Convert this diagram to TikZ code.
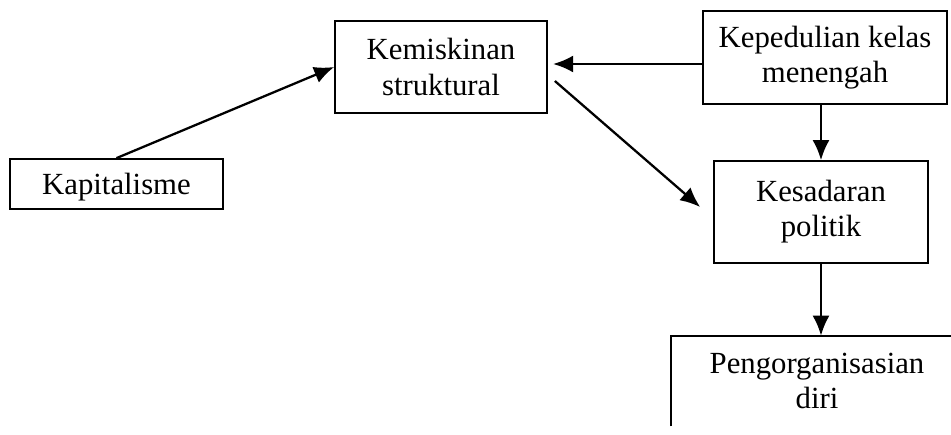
\documentclass[tikz,border=0pt]{standalone}
\usepackage{fontspec}
\setmainfont{Liberation Serif}
\usepackage{tikz}
\usetikzlibrary{positioning, arrows.meta}
\tikzset{
    box/.style={rectangle, draw=black, line width=1pt, fill=white, align=center, inner sep=0pt, font=\fontsize{17.5}{20}\selectfont},
    openbox/.style={rectangle, align=center, inner sep=0pt, font=\fontsize{17.5}{20}\selectfont},
    arrow/.style={-{Latex[length=0.4cm, width=0.34cm]}, line width=1.3pt}
}

\begin{document}
\begin{tikzpicture}[x=0.02cm, y=-0.02cm]
    \useasboundingbox (0,0) rectangle (951,435);
    \clip (0,0) rectangle (951,435);

    % Boxes
    \node[box, minimum width=4.26cm, minimum height=1.0cm, text depth=0pt] (kap) at (116.5,184) {Kapitalisme};
    \node[box, minimum width=4.24cm, minimum height=1.84cm] (kem) at (441,67) {Kemiskinan\\struktural};
    \node[box, minimum width=4.88cm, minimum height=1.86cm] (kep) at (825,57.5) {Kepedulian kelas\\menengah};
    \node[box, minimum width=4.28cm, minimum height=2.04cm] (kes) at (821,212) {Kesadaran\\politik};
    \node[openbox, minimum width=5.84cm, minimum height=1.8cm] (peng) at (817,381) {Pengorganisasian\\diri};
    \draw[line width=1pt] (peng.south west) -- (peng.north west) -- (peng.north east);

    % Arrows
    \draw[arrow] (kap.north) -- (kem.west);
    \draw[arrow] (kep.west |- 0,64) -- ([xshift=3]kem.east |- 0,64);
    \draw[arrow] ([shift={(7,14)}]kem.east) -- ([shift={(-13,-5)}]kes.west);
    \draw[arrow] (kes.north |- kep.south) -- (kes.north);
    \draw[arrow] (kes.south) -- (kes.south |- peng.north);
\end{tikzpicture}
\end{document}
